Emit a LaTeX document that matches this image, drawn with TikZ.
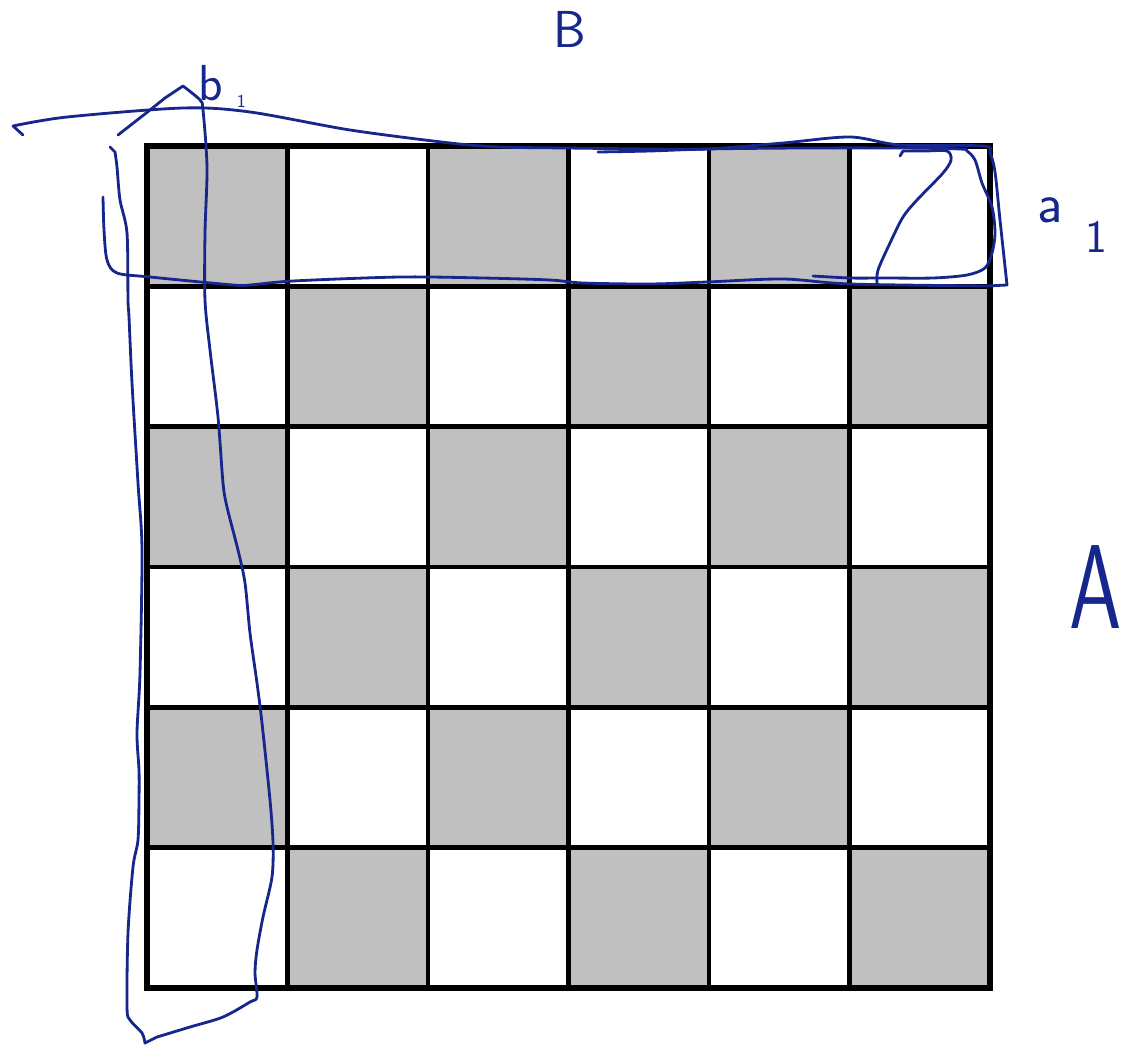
\documentclass[tikz,border=0pt]{standalone}
\usepackage{fontspec}

\definecolor{ink}{RGB}{22,38,140}
\definecolor{cellgrey}{RGB}{192,192,192}

\begin{document}
\begin{tikzpicture}[x=0.025cm,y=-0.025cm,
  inkline/.style={ink,line width=2pt,line cap=round,line join=round},
  inklabel/.style={ink,inner sep=0pt,anchor=base west,font=\sffamily},
  boardline/.style={line width=3.2pt}]
\useasboundingbox (0,0) rectangle (1129,1045);
% board
\foreach \j in {0,...,5}{
  \pgfmathtruncatemacro\k{mod(\j,2)}
  \foreach \i in {0,2,4}
    \fill[cellgrey] ({147+(\i+\k)*140.5},{146+\j*140.33}) rectangle +(140.5,140.33);
}
\foreach \t in {1,...,5}{
  \draw[boardline] ({147+\t*140.5},146) -- ({147+\t*140.5},988);
  \draw[boardline] (147,{146+\t*140.33}) -- (990,{146+\t*140.33});
}
\draw[boardline,line width=3.6pt] (147,146) rectangle (990,988);
% loop round the top row
\draw[inkline] (23,135) -- plot[smooth] coordinates {(13,126) (67,117) (183,108) (250,112) (350,130) (450,143) (500,147) (567,148) (650,149) (707,149) (783,143) (850,137) (900,145) (983,146) (990,153) (995,172) (1000,220) (1007,285)}
  -- plot[smooth] coordinates {(987,286) (850,284) (783,279) (707,282) (650,284) (583,283) (550,280) (483,278) (400,277) (293,281) (250,285) (233,285) (150,277) (117,273) (107,260) (104,230) (103,197)};
\draw[inkline] plot[smooth] coordinates {(598,152) (650,151) (707,149) (800,148) (900,148) (960,149) (967,151) (975,160) (982,183) (992,207) (995,233) (992,253) (985,268) (967,275) (933,278) (883,278) (850,278) (813,276)};
\draw[inkline] (900,156) -- plot[smooth] coordinates {(903,151) (925,151) (947,151) (951,160) (943,173) (917,200) (903,217) (890,243) (878,270) (877,283)};
% loop round the left column
\draw[inkline] (110,147) -- plot[smooth] coordinates {(115,152) (117,167) (120,200) (127,233) (128,300) (129,317) (132,383) (138,483) (142,550) (140,673) (137,733) (139,770) (139,800) (138,840) (133,867) (128,933) (127,1007) (130,1020) (142,1033) (145,1043)}
  -- plot[smooth] coordinates {(157,1037) (190,1027) (223,1017) (250,1002) (257,997) (255,973) (257,950) (263,917) (272,877) (273,843) (270,800) (262,723) (257,683) (250,633) (245,583) (238,550) (227,507) (223,483) (218,417) (210,350) (205,300) (205,233) (207,167) (203,110) (200,100) (183,86)}
  -- plot[smooth] coordinates {(165,98) (150,110) (118,135)};
% labels
\node[inklabel] (lblB) at (553,48) {\fontsize{37}{40}\selectfont B};
\node[inklabel] (lblb) at (198,100) {\fontsize{36}{40}\selectfont b\hspace{10pt}\raisebox{-5pt}{\fontsize{13}{14}\selectfont 1}};
\node[inklabel] (lbla) at (1037,222) {\fontsize{40}{44}\selectfont a\hspace{16pt}\raisebox{-22pt}{\fontsize{33}{36}\selectfont 1}};
\node[inklabel] (lblA) at (1069,628) {\fontsize{85}{90}\selectfont\scalebox{0.7}[1]{A}};
\end{tikzpicture}
\end{document}
